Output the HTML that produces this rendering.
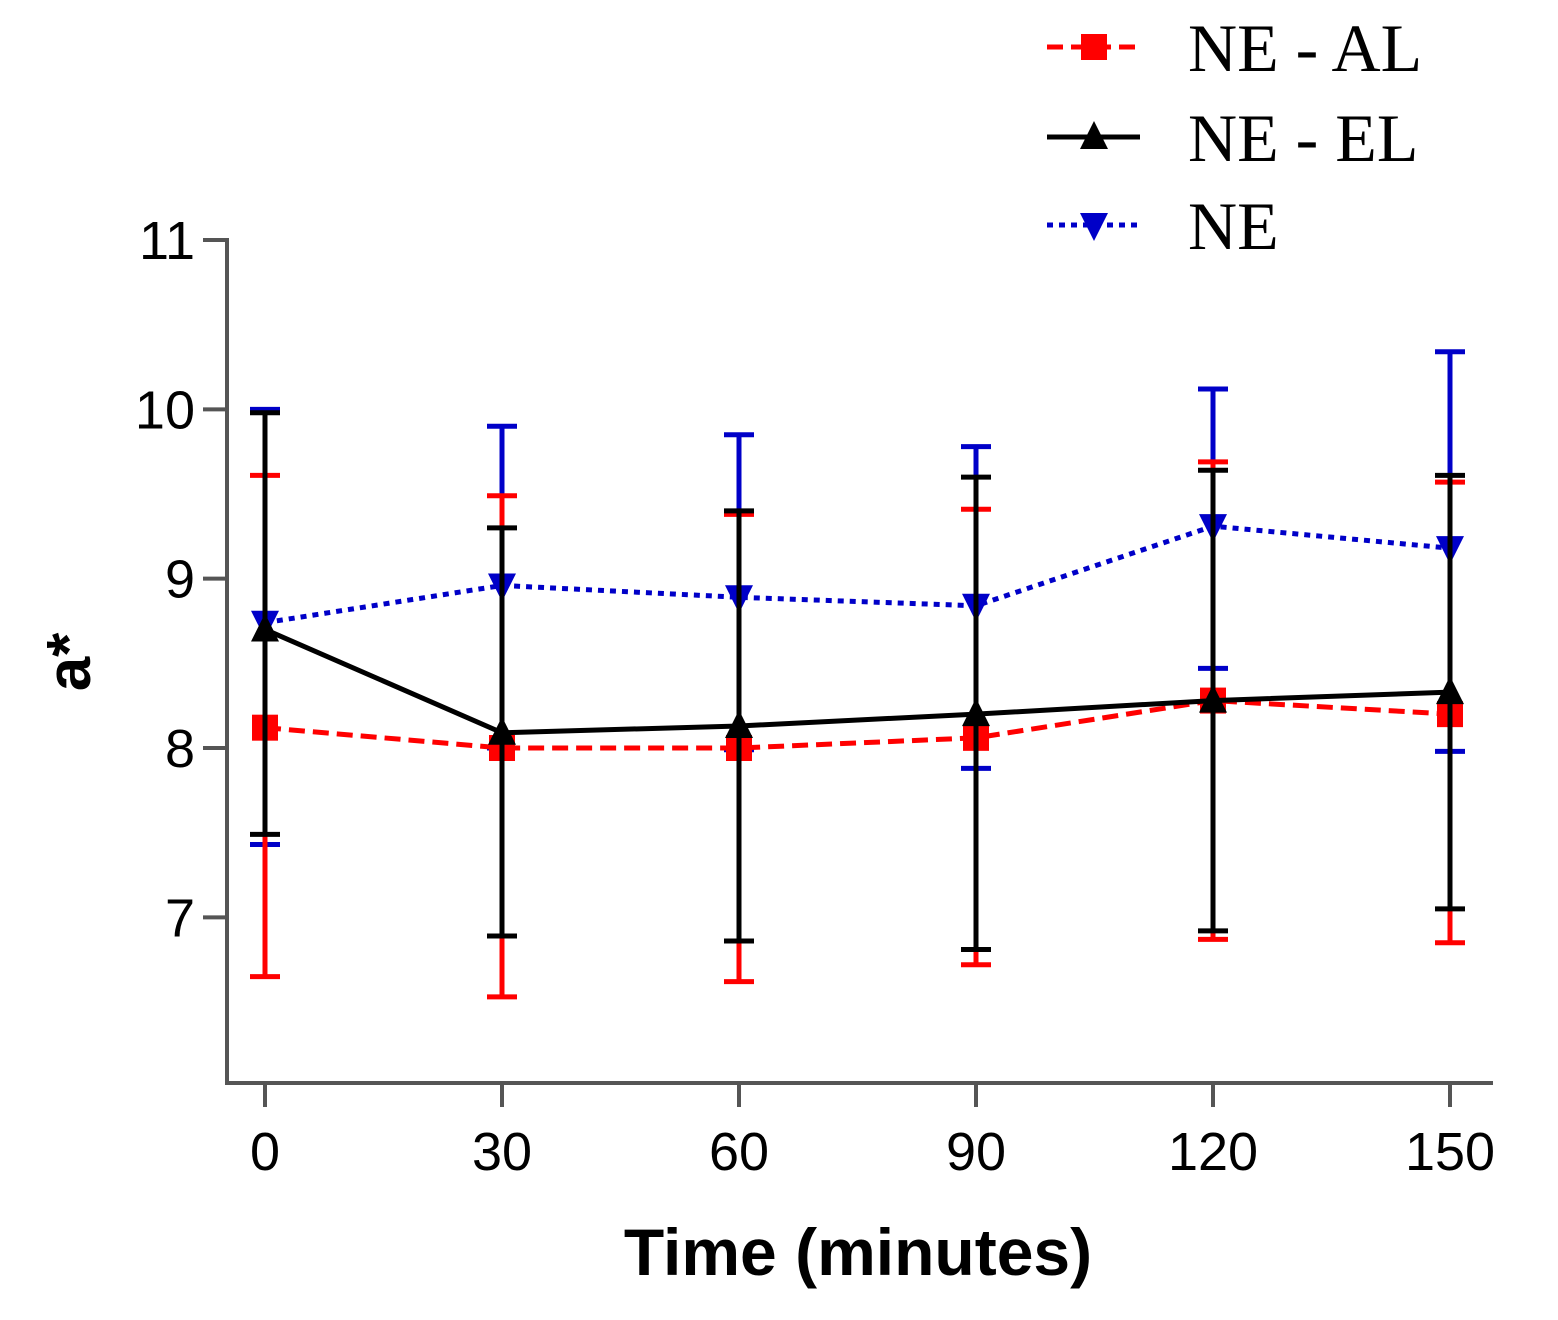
<!DOCTYPE html>
<html><head><meta charset="utf-8"><style>
body{margin:0;background:#fff}
svg{display:block}
</style></head><body>
<svg id="chart" width="1558" height="1320" viewBox="0 0 1558 1320" font-family="Liberation Sans, sans-serif">
<g id="axes"></g>
<g id="series"></g>
<g id="legend"></g>
<text x="858" y="1275" font-size="66" font-weight="bold" text-anchor="middle">Time (minutes)</text>
<text transform="translate(90,662) rotate(-90)" font-size="62" font-weight="bold" text-anchor="middle">a*</text>
</svg>
<script>
const times=[0,30,60,90,120,150];
const xTicks=[0,30,60,90,120,150];
const yTicks=[7,8,9,10,11];
const alMean=[8.12,8.0,8.0,8.06,8.28,8.2];
const alUp=[9.61,9.49,9.38,9.41,9.69,9.57];
const alLo=[6.65,6.53,6.62,6.72,6.87,6.85];
const elMean=[8.7,8.09,8.13,8.2,8.28,8.33];
const elUp=[9.98,9.30,9.40,9.60,9.64,9.61];
const elLo=[7.49,6.89,6.86,6.81,6.92,7.05];
const neMean=[8.74,8.96,8.89,8.84,9.31,9.18];
const neUp=[10.0,9.90,9.85,9.78,10.12,10.34];
const neLo=[7.43,8.0,7.99,7.88,8.47,7.98];
const NS="http://www.w3.org/2000/svg";
const X=t=>265+t*(1450-265)/150;
const Y=v=>240+(11-v)*(748-240)/3;
function mk(p,tag,a){const e=document.createElementNS(NS,tag);for(const k in a)e.setAttribute(k,a[k]);p.appendChild(e);return e;}
const ax=document.getElementById('axes');
let e=mk(ax,'line',{x1:227,y1:238,x2:227,y2:1083,stroke:'#555',"stroke-width":4});


e=mk(ax,'line',{x1:225,y1:1083,x2:1493,y2:1083,stroke:'#555',"stroke-width":4});


yTicks.forEach(v=>{mk(ax,'line',{x1:203,y1:Y(v),x2:227,y2:Y(v),stroke:'#555',"stroke-width":4});
const t=mk(ax,'text',{x:195,y:Y(v)+19,"font-size":54,"text-anchor":"end"});t.textContent=v;

});
xTicks.forEach(v=>{mk(ax,'line',{x1:X(v),y1:1083,x2:X(v),y2:1107,stroke:'#555',"stroke-width":4});
const t=mk(ax,'text',{x:X(v),y:1170,"font-size":54,"text-anchor":"middle"});t.textContent=v;

});
const sg=document.getElementById('series');
function marker(g,type,x,y,c){
 if(type==='sq')return mk(g,'rect',{x:x-13,y:y-13,width:26,height:26,fill:c});
 if(type==='up')return mk(g,'polygon',{points:`${x},${y-16} ${x-14},${y+12} ${x+14},${y+12}`,fill:c});
 return mk(g,'polygon',{points:`${x},${y+16} ${x-14},${y-12} ${x+14},${y-12}`,fill:c});
}
function series(name,mean,up,lo,c,dash,type){
 const g=mk(sg,'g',{});
 
 
 times.forEach((t,i)=>{const x=X(t);
  mk(g,'line',{x1:x,y1:Y(up[i]),x2:x,y2:Y(lo[i]),stroke:c,"stroke-width":5});
  mk(g,'line',{x1:x-15,y1:Y(up[i]),x2:x+15,y2:Y(up[i]),stroke:c,"stroke-width":5});
  mk(g,'line',{x1:x-15,y1:Y(lo[i]),x2:x+15,y2:Y(lo[i]),stroke:c,"stroke-width":5});});
 mk(g,'polyline',{points:times.map((t,i)=>X(t)+','+Y(mean[i])).join(' '),fill:'none',stroke:c,"stroke-width":5,"stroke-dasharray":dash});
 times.forEach((t,i)=>{const m=marker(g,type,X(t),Y(mean[i]),c);
  
  });
}
series('ne-series',neMean,neUp,neLo,'#0000c8','6 6','dn');
series('ne-al-series',alMean,alUp,alLo,'#ff0000','16 8','sq');
series('ne-el-series',elMean,elUp,elLo,'#000','none','up');
const lg=document.getElementById('legend');
[['NE - AL','#ff0000','16 8','sq',47],['NE - EL','#000','none','up',137],['NE','#0000c8','6 6','dn',225]].forEach(d=>{
 const g=mk(lg,'g',{});
 
 
 mk(g,'line',{x1:1047,y1:d[4],x2:1140,y2:d[4],stroke:d[1],"stroke-width":5,"stroke-dasharray":d[2]});
 marker(g,d[3],1094,d[4],d[1]);
 const t=mk(g,'text',{x:1188,y:d[4]+24,"font-size":68,"font-family":"Liberation Serif, serif"});t.textContent=d[0];
});
</script>
</body></html>
